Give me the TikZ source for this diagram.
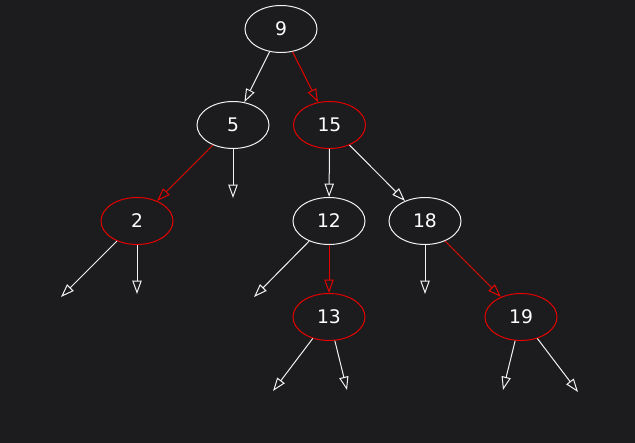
\documentclass[tikz,border=0pt]{standalone}
\usepackage{fontspec}
\setmainfont{DejaVu Sans}
\usetikzlibrary{arrows.meta,shapes.geometric}
\definecolor{bg}{HTML}{1C1C1E}
\definecolor{ln}{HTML}{F2F2F2}
\definecolor{rd}{HTML}{E60000}
\tikzset{
  tnode/.style={ellipse, draw=ln, fill=bg, line width=1pt, minimum width=72pt, minimum height=47pt, inner sep=0pt, text=white, font=\fontsize{18.7}{20}\selectfont},
  rnode/.style={tnode, draw=rd},
  wedge/.style={draw=ln, line width=1pt, -{Triangle[open, length=13.3pt, width=9.3pt]}},
  redge/.style={wedge, draw=rd},
}
\begin{document}
\begin{tikzpicture}[x=1pt,y=-1pt]
\fill[bg] (0,0) rectangle (635,443);
\useasboundingbox (0,0) rectangle (635,443);
\node[tnode] (n9) at (281,29) {9};
\node[tnode] (n5) at (233,125) {5};
\node[rnode] (n15) at (329.5,125) {15};
\node[rnode] (n2) at (137,221) {2};
\node[tnode] (n12) at (329,221) {12};
\node[tnode] (n18) at (425,221) {18};
\node[rnode] (n13) at (329,317) {13};
\node[rnode] (n19) at (521,317) {19};
\coordinate (l2a) at (61,297);
\coordinate (l2b) at (137,294);
\coordinate (l5b) at (233,198);
\coordinate (l12a) at (254,297);
\coordinate (l18a) at (425,294);
\coordinate (l13a) at (273,391);
\coordinate (l13b) at (347,390);
\coordinate (l19a) at (503,390);
\coordinate (l19b) at (578,392);
\draw[wedge] (n9) -- (n5);
\draw[redge] (n9) -- (n15);
\draw[redge] (n5) -- (n2);
\draw[wedge] (n5) -- (l5b);
\draw[wedge] (n2) -- (l2a);
\draw[wedge] (n2) -- (l2b);
\draw[wedge] (n15) -- (n12);
\draw[wedge] (n15) -- (n18);
\draw[wedge] (n12) -- (l12a);
\draw[redge] (n12) -- (n13);
\draw[wedge] (n18) -- (l18a);
\draw[redge] (n18) -- (n19);
\draw[wedge] (n13) -- (l13a);
\draw[wedge] (n13) -- (l13b);
\draw[wedge] (n19) -- (l19a);
\draw[wedge] (n19) -- (l19b);
\end{tikzpicture}
\end{document}
